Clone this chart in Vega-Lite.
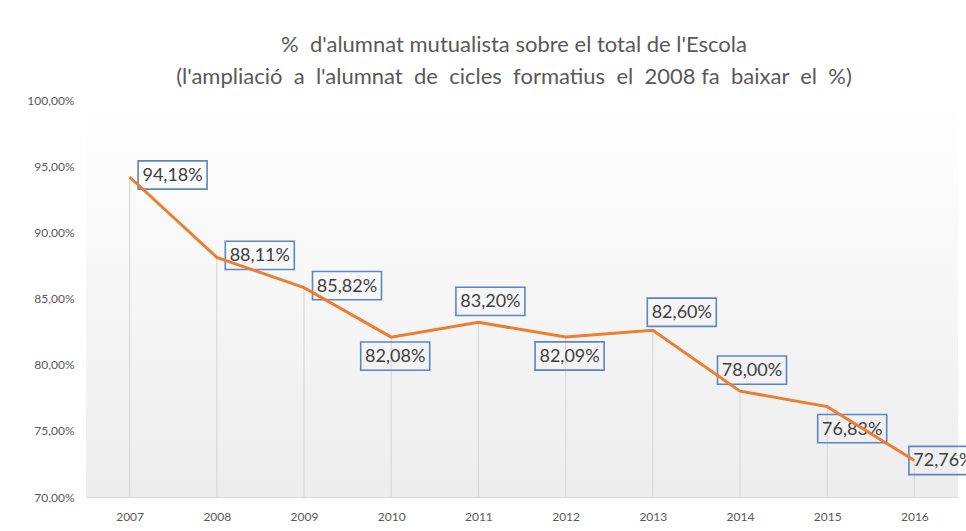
{
  "$schema": "https://vega.github.io/schema/vega-lite/v6.json",
  "width": 872,
  "height": 397,
  "autosize": {"type": "none"},
  "padding": {"left": 86, "top": 100, "right": 8, "bottom": 34},
  "background": "#ffffff",
  "config": {
    "locale": {"number": {"decimal": ",", "thousands": ".", "grouping": [3], "currency": ["", " €"]}},
    "view": {"stroke": null},
    "font": "Lato"
  },
  "title": {
    "text": ["%\u00a0 d'alumnat mutualista sobre el total de l'Escola", "(l'ampliació\u00a0 a\u00a0 l'alumnat\u00a0 de\u00a0 cicles\u00a0 formatius\u00a0 el\u00a0 2008 fa\u00a0 baixar\u00a0 el\u00a0 %)"],
    "fontSize": 22,
    "fontWeight": "normal",
    "font": "Lato",
    "color": "#595959",
    "lineHeight": 32,
    "offset": 5,
    "dx": -8,
    "anchor": "middle"
  },
  "datasets": {
    "pct": [
      {"year": "2007", "v": 0.9418},
      {"year": "2008", "v": 0.8811},
      {"year": "2009", "v": 0.8582},
      {"year": "2010", "v": 0.8208},
      {"year": "2011", "v": 0.8320},
      {"year": "2012", "v": 0.8209},
      {"year": "2013", "v": 0.8260},
      {"year": "2014", "v": 0.7800},
      {"year": "2015", "v": 0.7683},
      {"year": "2016", "v": 0.7276}
    ]
  },
  "layer": [
    {
      "data": {"values": [{}]},
      "mark": {
        "type": "rect",
        "color": {"gradient": "linear", "x1": 0, "y1": 0, "x2": 0, "y2": 1,
          "stops": [{"offset": 0, "color": "#ffffff"}, {"offset": 1, "color": "#ededed"}]}
      },
      "encoding": {
        "y": {"datum": 1.0, "type": "quantitative"},
        "y2": {"datum": 0.70}
      }
    },
    {
      "data": {"name": "pct"},
      "layer": [
        {
          "mark": {"type": "rule", "color": "#d9d9d9", "strokeWidth": 1.2},
          "encoding": {
            "x": {"field": "year", "type": "ordinal"},
            "y": {"field": "v", "type": "quantitative"},
            "y2": {"datum": 0.70}
          }
        },
        {
          "transform": [{"filter": {"field": "year", "oneOf": ["2007", "2008", "2009"]}}],
          "layer": [
            {"mark": {"type": "point", "shape": "M-1,-0.41L1,-0.41L1,0.41L-1,0.41Z", "size": 4761, "filled": false, "stroke": "#5b86c5", "strokeWidth": 1.6, "opacity": 1, "xOffset": 43, "yOffset": -2}, "encoding": {"x": {"field": "year", "type": "ordinal"}, "y": {"field": "v", "type": "quantitative"}}},
            {"mark": {"type": "text", "fontSize": 18, "color": "#404040", "align": "center", "baseline": "middle", "dx": 43, "dy": -1}, "encoding": {"x": {"field": "year", "type": "ordinal"}, "y": {"field": "v", "type": "quantitative"}, "text": {"field": "v", "type": "quantitative", "format": ".2%"}}}
          ]
        },
        {
          "transform": [{"filter": {"field": "year", "oneOf": ["2010", "2012"]}}],
          "layer": [
            {"mark": {"type": "point", "shape": "M-1,-0.41L1,-0.41L1,0.41L-1,0.41Z", "size": 4761, "filled": false, "stroke": "#5b86c5", "strokeWidth": 1.6, "opacity": 1, "xOffset": 4, "yOffset": 19}, "encoding": {"x": {"field": "year", "type": "ordinal"}, "y": {"field": "v", "type": "quantitative"}}},
            {"mark": {"type": "text", "fontSize": 18, "color": "#404040", "align": "center", "baseline": "middle", "dx": 4, "dy": 20}, "encoding": {"x": {"field": "year", "type": "ordinal"}, "y": {"field": "v", "type": "quantitative"}, "text": {"field": "v", "type": "quantitative", "format": ".2%"}}}
          ]
        },
        {
          "transform": [{"filter": {"field": "year", "oneOf": ["2011", "2014"]}}],
          "layer": [
            {"mark": {"type": "point", "shape": "M-1,-0.41L1,-0.41L1,0.41L-1,0.41Z", "size": 4761, "filled": false, "stroke": "#5b86c5", "strokeWidth": 1.6, "opacity": 1, "xOffset": 12, "yOffset": -21}, "encoding": {"x": {"field": "year", "type": "ordinal"}, "y": {"field": "v", "type": "quantitative"}}},
            {"mark": {"type": "text", "fontSize": 18, "color": "#404040", "align": "center", "baseline": "middle", "dx": 12, "dy": -20}, "encoding": {"x": {"field": "year", "type": "ordinal"}, "y": {"field": "v", "type": "quantitative"}, "text": {"field": "v", "type": "quantitative", "format": ".2%"}}}
          ]
        },
        {
          "transform": [{"filter": {"field": "year", "oneOf": ["2013"]}}],
          "layer": [
            {"mark": {"type": "point", "shape": "M-1,-0.41L1,-0.41L1,0.41L-1,0.41Z", "size": 4761, "filled": false, "stroke": "#5b86c5", "strokeWidth": 1.6, "opacity": 1, "xOffset": 29, "yOffset": -18}, "encoding": {"x": {"field": "year", "type": "ordinal"}, "y": {"field": "v", "type": "quantitative"}}},
            {"mark": {"type": "text", "fontSize": 18, "color": "#404040", "align": "center", "baseline": "middle", "dx": 29, "dy": -17}, "encoding": {"x": {"field": "year", "type": "ordinal"}, "y": {"field": "v", "type": "quantitative"}, "text": {"field": "v", "type": "quantitative", "format": ".2%"}}}
          ]
        },
        {
          "transform": [{"filter": {"field": "year", "oneOf": ["2015"]}}],
          "layer": [
            {"mark": {"type": "point", "shape": "M-1,-0.41L1,-0.41L1,0.41L-1,0.41Z", "size": 4761, "filled": false, "stroke": "#5b86c5", "strokeWidth": 1.6, "opacity": 1, "xOffset": 25, "yOffset": 22}, "encoding": {"x": {"field": "year", "type": "ordinal"}, "y": {"field": "v", "type": "quantitative"}}},
            {"mark": {"type": "text", "fontSize": 18, "color": "#404040", "align": "center", "baseline": "middle", "dx": 25, "dy": 23}, "encoding": {"x": {"field": "year", "type": "ordinal"}, "y": {"field": "v", "type": "quantitative"}, "text": {"field": "v", "type": "quantitative", "format": ".2%"}}}
          ]
        },
        {
          "transform": [{"filter": {"field": "year", "oneOf": ["2016"]}}],
          "layer": [
            {"mark": {"type": "point", "shape": "M-1,-0.41L1,-0.41L1,0.41L-1,0.41Z", "size": 4761, "filled": false, "stroke": "#5b86c5", "strokeWidth": 1.6, "opacity": 1, "xOffset": 29, "yOffset": 0}, "encoding": {"x": {"field": "year", "type": "ordinal"}, "y": {"field": "v", "type": "quantitative"}}},
            {"mark": {"type": "text", "fontSize": 18, "color": "#404040", "align": "center", "baseline": "middle", "dx": 29, "dy": 1}, "encoding": {"x": {"field": "year", "type": "ordinal"}, "y": {"field": "v", "type": "quantitative"}, "text": {"field": "v", "type": "quantitative", "format": ".2%"}}}
          ]
        },
        {
          "mark": {"type": "line", "color": "#ed7d31", "strokeWidth": 3},
          "encoding": {
            "x": {
              "field": "year", "type": "ordinal",
              "scale": {"type": "point", "padding": 0.5},
              "axis": {"title": null, "labelAngle": 0, "labelAlign": "center", "labelBaseline": "top", "labelFontSize": 12, "labelColor": "#595959", "labelFont": "Lato", "ticks": false, "domainColor": "#d9d9d9", "domainWidth": 1.2, "labelPadding": 14}
            },
            "y": {
              "field": "v", "type": "quantitative",
              "scale": {"domain": [0.70, 1.0], "zero": false, "nice": false},
              "axis": {"title": null, "format": ".2%", "values": [0.70, 0.75, 0.80, 0.85, 0.90, 0.95, 1.0], "grid": false, "domain": false, "ticks": false, "labelFontSize": 12, "labelColor": "#595959", "labelFont": "Lato", "labelPadding": 12}
            }
          }
        }
      ]
    }
  ]
}
